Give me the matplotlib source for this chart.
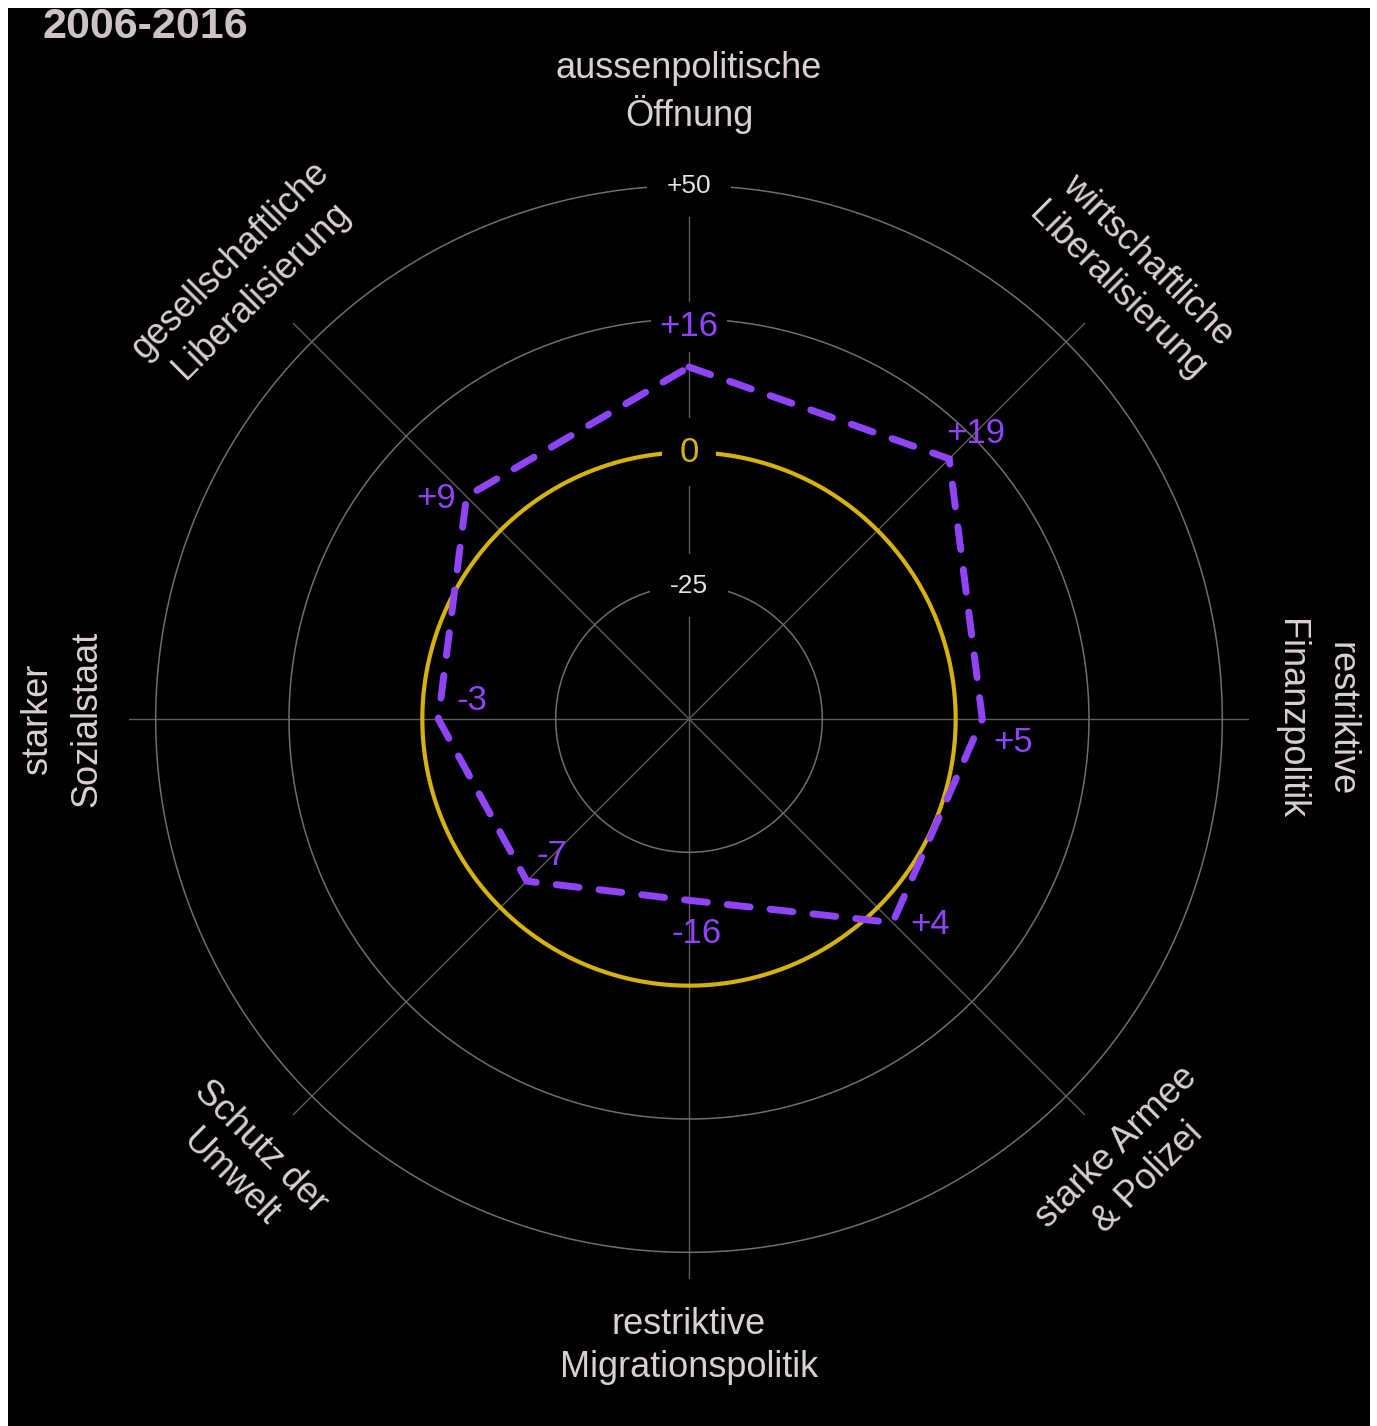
import numpy as np
import matplotlib
matplotlib.use("Agg")
import matplotlib.pyplot as plt
from matplotlib.patches import Rectangle

plt.rcParams['font.family'] = ['Liberation Sans', 'DejaVu Sans']

# ---------------- data ----------------
title = "2006-2016"
categories = [
    "aussenpolitische\nÖffnung",
    "wirtschaftliche\nLiberalisierung",
    "restriktive\nFinanzpolitik",
    "starke Armee\n& Polizei",
    "restriktive\nMigrationspolitik",
    "Schutz der\nUmwelt",
    "starker\nSozialstaat",
    "gesellschaftliche\nLiberalisierung",
]
values = [16, 19, 5, 4, -16, -7, -3, 9]
ring_values = [-25, 0, 25, 50]
ring_labels = ["-25", "0", "", "+50"]

# ---------------- style ----------------
W, H = 1377, 1426
DPI = 100
PURPLE = "#8f45f7"
YELLOW = "#d6b20a"
GRID = "#6e6e6e"
SPOKE = "#5c5c5c"
LABEL = "#d9cfd4"
TITLE = "#cdc3c7"
RMIN, RMAX = -50, 55
R_CAT = 67.5

# label rotations, line spacings and value-label pixel offsets (styling)
cat_rot = [0, -45, -90, 45, 0, -45, 90, 45]
cat_ls = [1.3, 1.3, 1.55, 1.3, 1.3, 1.3, 1.55, 1.3]
val_offsets = [(0, 40), (27, 25), (31, -23), (37, -2), (8, -33), (25, 26), (34, 18), (-30, -2)]

fig = plt.figure(figsize=(W / DPI, H / DPI), dpi=DPI, facecolor="white")
fig.patches.append(Rectangle((8 / W, 0), (1370 - 8) / W, (H - 8) / H,
                             transform=fig.transFigure, facecolor="black",
                             edgecolor="none", zorder=-10))

cx, cy = 689, 719
rad = 560
ax = fig.add_axes([(cx - rad) / W, (H - cy - rad) / H, 2 * rad / W, 2 * rad / H],
                  projection="polar")
ax.set_facecolor("none")
ax.set_theta_zero_location("N")
ax.set_theta_direction(-1)
ax.set_ylim(RMIN, RMAX)
ax.grid(False)
ax.set_xticks([])
ax.set_yticks([])
ax.spines["polar"].set_visible(False)

n = len(categories)
theta = np.arange(n) * 2 * np.pi / n
tt = np.linspace(0, 2 * np.pi, 721)

# spokes
for t in theta:
    ax.plot([t, t], [RMIN, RMAX], color=SPOKE, lw=1.0, zorder=1)

# rings
for rv, rl in zip(ring_values, ring_labels):
    if rv == 0:
        ax.plot(tt, np.full_like(tt, rv), color=YELLOW, lw=3.0, zorder=3)
    else:
        ax.plot(tt, np.full_like(tt, rv), color=GRID, lw=1.1, zorder=1)
    if rl:
        col = YELLOW if rv == 0 else "#e2e2e2"
        fs = 25 if rv == 0 else 19
        pad = 0.5 if rv == 0 else 0.75
        ax.text(0, rv, rl, color=col, fontsize=fs, ha="center", va="center",
                zorder=4, bbox=dict(facecolor="black", edgecolor="none",
                                    boxstyle=f"square,pad={pad}"))

# data polygon
th_c = np.append(theta, theta[0])
v_c = np.append(values, values[0])
ax.plot(th_c, v_c, color=PURPLE, lw=5, dashes=(3.3, 2.9),
        dash_capstyle="round", dash_joinstyle="miter", zorder=6)

# value labels
for i, (t, v) in enumerate(zip(theta, values)):
    txt = f"{v:+d}"
    bb = dict(facecolor="black", edgecolor="none", boxstyle="square,pad=0.25") if i == 0 else None
    ax.annotate(txt, xy=(t, v), xytext=val_offsets[i], textcoords="offset pixels",
                color=PURPLE, fontsize=25, ha="center", va="center", zorder=5,
                bbox=bb)

# category labels
for t, lab, rot, ls in zip(theta, categories, cat_rot, cat_ls):
    ax.text(t, R_CAT, lab, color=LABEL, fontsize=26, ha="center", va="center",
            rotation=rot, rotation_mode="anchor", multialignment="center",
            linespacing=ls, clip_on=False)

fig.text(43 / W, 1 - 7 / H, title, color=TITLE, fontsize=31, fontweight="bold",
         ha="left", va="top")

fig.savefig("out.png", dpi=DPI, facecolor="white")
